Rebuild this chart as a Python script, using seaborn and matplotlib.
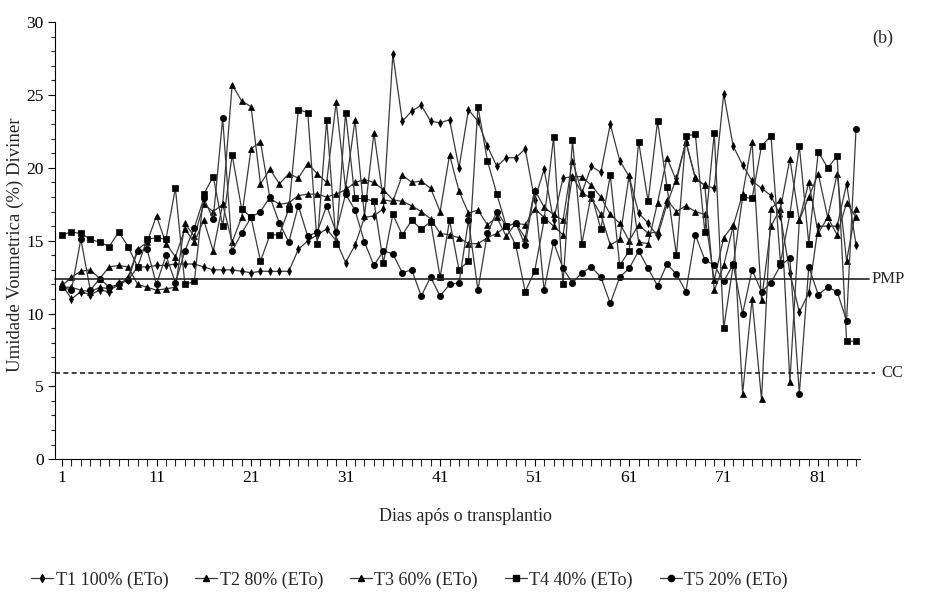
import numpy as np
import pandas as pd
import matplotlib
matplotlib.use("Agg")
import matplotlib.pyplot as plt
import seaborn as sns
from matplotlib.ticker import MultipleLocator, FixedLocator
from matplotlib.lines import Line2D

days = list(range(1, 86))

t1 = [12.0, 11.0, 11.5, 11.3, 11.6, 11.5, 12.1, 12.3, 13.2, 13.2,
      13.3, 13.3, 13.4, 13.4, 13.4, 13.2, 13.0, 13.0, 13.0, 12.9,
      12.8, 12.9, 12.9, 12.9, 12.9, 14.4, 15.0, 15.4, 15.8, 15.0,
      13.5, 14.7, 16.6, 16.7, 17.2, 27.8, 23.2, 23.9, 24.3, 23.2,
      23.1, 23.3, 20.0, 24.0, 23.2, 21.5, 20.1, 20.7, 20.7, 21.3,
      17.8, 19.9, 16.4, 19.3, 19.4, 18.3, 20.1, 19.7, 23.0, 20.5,
      19.4, 16.9, 16.2, 15.3, 17.5, 19.3, 21.8, 19.3, 18.8, 18.6,
      25.1, 21.5, 20.2, 19.1, 18.6, 18.1, 16.7, 12.8, 10.1, 11.4,
      16.0, 16.0, 16.0, 18.9, 14.7]

t2 = [11.9, 12.5, 12.9, 13.0, 12.4, 13.2, 13.3, 13.2, 12.0, 11.8,
      11.6, 11.7, 11.8, 16.2, 15.3, 17.5, 17.0, 17.5, 25.7, 24.6,
      24.2, 18.9, 19.9, 18.9, 19.6, 19.3, 20.3, 19.6, 19.0, 24.5,
      18.6, 23.3, 16.7, 22.4, 17.8, 17.7, 19.5, 19.0, 19.1, 18.6,
      17.0, 20.9, 18.4, 16.9, 17.1, 16.1, 16.6, 15.3, 16.2, 15.2,
      18.5, 17.3, 16.8, 16.4, 20.5, 18.3, 17.9, 16.8, 14.7, 15.1,
      19.5, 14.9, 14.8, 17.6, 20.7, 19.1, 21.8, 19.3, 18.8, 11.6,
      13.3, 16.0, 18.2, 21.8, 10.9, 16.0, 17.2, 20.6, 16.4, 19.0,
      15.5, 16.6, 19.6, 13.6, 17.2]

t3 = [11.8, 11.8, 11.6, 11.5, 11.8, 11.7, 11.9, 12.5, 14.4, 14.9,
      16.7, 14.8, 13.9, 15.8, 14.9, 16.4, 14.3, 17.5, 14.9, 16.6,
      21.3, 21.8, 17.9, 17.5, 17.6, 18.1, 18.2, 18.2, 18.0, 18.2,
      18.5, 19.0, 19.2, 19.0, 18.5, 17.8, 17.7, 17.4, 17.0, 16.5,
      15.5, 15.4, 15.2, 14.8, 14.8, 15.2, 15.5, 16.0, 16.2, 16.1,
      17.2, 16.6, 16.0, 15.4, 19.4, 19.4, 18.8, 18.0, 16.8, 16.2,
      15.0, 16.1, 15.5, 15.6, 17.8, 17.0, 17.4, 17.0, 16.8, 12.3,
      15.2, 16.1, 4.5, 11.0, 4.1, 17.2, 17.8, 5.3, 16.4, 18.0,
      19.6, 16.6, 15.4, 17.6, 16.6]

t4 = [15.4, 15.6, 15.5, 15.1, 14.9, 14.6, 15.6, 14.6, 13.2, 15.1,
      15.2, 15.1, 18.6, 12.0, 12.2, 18.2, 19.4, 16.0, 20.9, 17.2,
      16.6, 13.6, 15.4, 15.4, 17.2, 24.0, 23.8, 14.8, 23.3, 14.8,
      23.8, 17.9, 17.9, 17.7, 13.5, 16.8, 15.4, 16.4, 15.8, 16.3,
      12.5, 16.4, 13.0, 13.6, 24.2, 20.5, 18.2, 16.0, 14.7, 11.5,
      12.9, 16.4, 22.1, 12.0, 21.9, 14.8, 18.2, 15.8, 19.5, 13.3,
      14.3, 21.8, 17.7, 23.2, 18.7, 14.0, 22.2, 22.3, 15.6, 22.4,
      9.0, 13.3, 18.0, 17.9, 21.5, 22.2, 13.5, 16.8, 21.5, 14.8,
      21.1, 20.0, 20.8, 8.1, 8.1]

t5 = [11.8, 11.6, 15.1, 11.6, 12.4, 11.8, 12.0, 12.3, 14.3, 14.4,
      12.0, 14.0, 12.1, 14.3, 15.9, 17.9, 16.5, 23.4, 14.3, 15.5,
      16.6, 17.0, 18.0, 16.2, 14.9, 17.4, 15.3, 15.6, 17.4, 15.6,
      18.2, 17.1, 14.9, 13.3, 14.3, 14.1, 12.8, 13.0, 11.2, 12.5,
      11.2, 12.0, 12.1, 16.4, 11.6, 15.5, 17.0, 16.0, 16.2, 14.7,
      18.4, 11.6, 14.9, 13.1, 12.1, 12.8, 13.2, 12.5, 10.7, 12.5,
      13.1, 14.3, 13.1, 11.9, 13.4, 12.7, 11.5, 15.4, 13.7, 13.3,
      12.2, 13.4, 10.0, 13.0, 11.5, 12.1, 13.3, 13.8, 4.5, 13.2,
      11.3, 11.8, 11.5, 9.5, 22.7]

labels = ["T1 100% (ETo)", "T2 80% (ETo)", "T3 60% (ETo)", "T4 40% (ETo)", "T5 20% (ETo)"]
series = [t1, t2, t3, t4, t5]
markers = ["d", "^", "^", "s", "o"]
msizes = [4, 4, 4, 5, 4.5]

pmp = 12.4
cc = 5.9
xtick_labels = [1, 11, 21, 31, 41, 51, 61, 71, 81]

df = pd.DataFrame({
    "Dia": np.tile(days, len(series)),
    "Valor": np.concatenate(series),
    "Serie": np.repeat(labels, len(days)),
})

sns.set_style("white")
plt.rcParams["font.family"] = ["Liberation Serif", "DejaVu Serif"]

fig = plt.figure(figsize=(9.48, 6.01), dpi=100)
ax = fig.add_axes([0.058, 0.236, 0.849, 0.727])

sns.lineplot(data=df, x="Dia", y="Valor", hue="Serie", style="Serie",
             markers=dict(zip(labels, markers)), dashes=False,
             palette=dict(zip(labels, ["#3a3a3a"] * 5)),
             linewidth=0.9, ax=ax, legend=False, estimator=None, sort=False)

for ln, ms in zip(ax.lines, msizes):
    ln.set_markersize(ms)
    ln.set_markerfacecolor("black")
    ln.set_markeredgecolor("black")
    ln.set_markeredgewidth(0.5)

ax.plot([0.26, 86.4], [pmp, pmp], color="#222222", lw=1.2, clip_on=False)
ax.plot([0.26, 87.0], [cc, cc], color="#222222", lw=1.2, ls=(0, (3, 2)), clip_on=False)
ax.text(86.6, pmp, "PMP", fontsize=12, va="center", ha="left")
ax.text(87.7, cc, "CC", fontsize=12, va="center", ha="left")

ax.set_xlim(0.26, 85.4)
ax.set_ylim(0, 30)
ax.xaxis.set_major_locator(FixedLocator(xtick_labels))
ax.xaxis.set_minor_locator(MultipleLocator(1))
ax.yaxis.set_major_locator(MultipleLocator(5))
ax.yaxis.set_minor_locator(MultipleLocator(1))
ax.tick_params(axis="both", which="major", direction="out", length=5, width=0.8,
               labelsize=12.5, colors="black", left=True, bottom=True, pad=3)
ax.tick_params(axis="y", which="minor", direction="out", length=3, width=0.8, left=True)
ax.tick_params(axis="x", which="minor", direction="out", length=5, width=0.8, bottom=True)
for s in ["top", "right"]:
    ax.spines[s].set_visible(False)
for s in ["left", "bottom"]:
    ax.spines[s].set_color("black")
    ax.spines[s].set_linewidth(0.8)

ax.set_xlabel("Dias após o transplantio", fontsize=13)
ax.xaxis.set_label_coords(0.51, -0.112)
ax.set_ylabel("Umidade Voumetrica (%) Diviner", fontsize=13.5)
ax.yaxis.set_label_coords(-0.038, 0.49)
fig.text(0.931, 0.937, "(b)", fontsize=13, ha="center", va="center")

handles = [Line2D([0], [0], color="#3a3a3a", lw=0.9, marker=m, markersize=ms,
                  markerfacecolor="black", markeredgecolor="black")
           for m, ms in zip(markers, msizes)]
fig.legend(handles, labels, loc="center", bbox_to_anchor=(0.432, 0.035), ncol=5,
           frameon=False, fontsize=13, handlelength=1.2, handletextpad=0.15,
           columnspacing=1.5)

fig.savefig("out.png", dpi=100)
